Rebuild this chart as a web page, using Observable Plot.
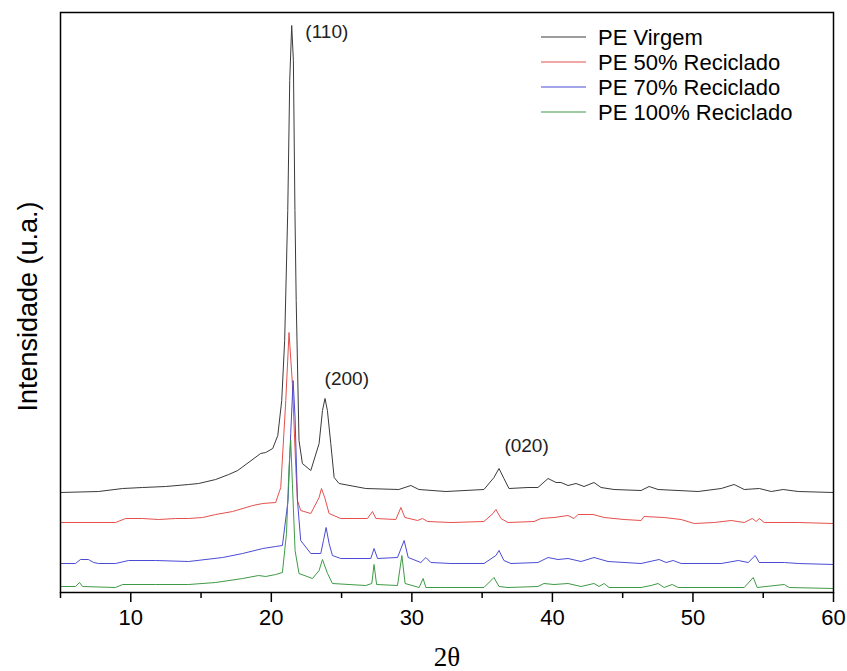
<!DOCTYPE html>
<html><head><meta charset="utf-8">
<script src="https://cdn.jsdelivr.net/npm/d3@7"></script>
<script src="https://cdn.jsdelivr.net/npm/@observablehq/plot@0.6"></script>
<style>body{margin:0;background:#fff} svg{display:block}</style>
</head><body><div id="chart"></div>
<script>
const seriesNames = ["PE Virgem", "PE 50% Reciclado", "PE 70% Reciclado", "PE 100% Reciclado"];
const seriesColors = ["#3a3a3a", "#e5504c", "#4b4bd6", "#3f9a45"];

const virgem2t = [5.00,7.71,9.42,10.84,12.48,14.12,14.83,16.04,16.97,17.61,19.24,19.60,20.10,20.46,20.74,20.95,21.17,21.31,21.45,21.57,21.68,21.77,21.97,22.21,22.81,23.40,23.64,23.82,23.99,24.23,24.47,24.82,26.72,29.07,29.93,30.50,32.42,35.13,35.84,36.20,36.55,36.91,38.26,38.97,39.69,40.26,40.61,41.11,41.68,42.25,42.96,43.46,44.39,46.31,46.88,47.52,50.37,52.01,52.93,53.65,54.72,55.57,56.42,57.49,59.99];
const virgemI = [100,101,104,105,106,108,109,113,118,122,139,140,144,157,192,252,382,512,567,532,382,292,152,129,122,149,182,194,182,149,115,109,104,103,107,103,101,103,115,124,114,104,105,105,114,110,110,107,109,106,110,105,103,102,106,103,101,104,108,103,104,101,103,101,100];

const r50_2t = [5.00,8.92,9.63,10.84,11.98,13.19,14.12,15.11,16.04,17.25,18.68,19.39,20.31,20.67,21.03,21.26,21.50,21.74,21.86,22.09,22.81,23.40,23.57,23.80,24.11,24.94,26.84,27.20,27.44,28.86,29.22,29.50,30.41,30.76,31.12,32.78,35.13,35.77,35.98,36.34,36.84,38.69,39.19,40.11,41.11,41.54,41.82,42.89,43.68,45.10,46.31,46.52,47.95,49.16,50.09,51.51,52.72,53.65,54.22,54.50,54.72,55.07,57.49,59.99];
const r50I = [70,70,74,74,73,74,74,75,78,81,87,89,90,105,192,260,209,125,92,82,79,95,104,95,79,74,74,81,74,73,85,75,72,74,71,70,71,79,83,74,70,71,74,75,77,74,78,78,75,73,72,76,75,73,69,70,72,70,74,71,74,70,70,69];

const r70_2t = [5.00,6.07,6.42,6.99,7.35,7.71,8.92,9.84,11.77,14.12,16.54,17.96,19.39,20.31,20.79,21.19,21.38,21.55,21.69,21.86,22.09,22.81,23.52,23.71,23.90,24.11,24.35,24.94,27.08,27.31,27.56,28.98,29.45,29.74,30.64,31.00,31.35,32.78,35.13,35.98,36.20,36.55,37.05,38.97,39.69,40.40,41.11,42.04,42.96,43.96,46.31,47.59,48.09,48.59,49.16,52.01,53.22,53.93,54.43,54.72,56.50,57.49,59.99];
const r70I = [29,29,33,33,30,29,29,32,32,31,35,39,44,46,47,92,159,212,175,92,52,39,39,52,65,49,37,34,34,44,34,35,52,35,30,35,30,29,29,37,42,32,29,30,35,33,34,31,35,31,29,33,30,32,29,29,32,30,37,30,30,29,28];

const r100_2t = [5.00,6.07,6.35,6.57,8.92,9.42,11.77,14.12,16.04,17.96,19.10,19.60,20.31,20.79,21.08,21.26,21.38,21.50,21.69,21.97,22.93,23.40,23.64,24.00,24.35,26.72,27.15,27.31,27.49,28.98,29.29,29.52,30.52,30.80,31.00,32.42,35.13,35.84,36.20,36.84,38.97,39.40,40.11,41.11,42.04,42.96,43.32,43.68,44.03,46.31,47.02,47.52,47.95,48.52,48.95,53.65,54.29,54.57,56.50,56.85,59.99];
const r100I = [6,6,10,6,5,8,8,8,10,14,17,16,18,20,59,125,152,109,42,19,14,22,33,19,9,7,9,28,8,7,37,9,5,14,5,5,5,15,6,5,6,9,8,9,6,9,6,9,5,5,7,9,5,8,5,5,15,5,8,5,4];

const majorTicks = [10, 20, 30, 40, 50, 60];
const minorTicks = [5, 15, 25, 35, 45, 55];
const peakLabels = ["(110)", "(200)", "(020)"];
const peak2t = [23.95, 25.37, 38.16];
const peakI = [561, 214, 147];

const seriesX = [virgem2t, r50_2t, r70_2t, r100_2t];
const seriesY = [virgemI, r50I, r70I, r100I];
const rows = [];
seriesNames.forEach((s, k) => seriesX[k].forEach((t, j) => rows.push({s, t, i: seriesY[k][j]})));
const peaks = peakLabels.map((label, j) => ({label, t: peak2t[j], i: peakI[j]}));

const chart = Plot.plot({
  width: 847, height: 671,
  marginTop: 12, marginBottom: 79, marginLeft: 60, marginRight: 14,
  x: {domain: [5, 60]},
  y: {domain: [0, 580], axis: null},
  color: {domain: seriesNames, range: seriesColors},
  style: {fontFamily: "'Liberation Sans', Arial, sans-serif", background: "#fff", color: "#000"},
  marks: [
    Plot.line(rows, {x: "t", y: "i", z: "s", stroke: "s", strokeWidth: 1}),
    Plot.text(peaks, {x: "t", y: "i", text: "label", fontSize: 19, fill: "#222"}),
    Plot.frame({stroke: "#000", strokeWidth: 1.5}),
    Plot.axisX(majorTicks, {tickSize: 10, tickPadding: 7, fontSize: 22, label: null, stroke: "#000", strokeWidth: 1.5}),
    Plot.axisX(minorTicks, {tickSize: 6, tickFormat: () => "", label: null, stroke: "#000", strokeWidth: 1.5}),
    Plot.text(["2θ"], {frameAnchor: "bottom", dy: 73, fontSize: 27, fontFamily: "'Liberation Serif', 'Times New Roman', serif", fill: "#000"}),
    Plot.text(["Intensidade (u.a.)"], {frameAnchor: "left", dx: -32, dy: 4, rotate: -90, textAnchor: "middle", fontSize: 27, fill: "#000"})
  ]
});

const svg = d3.select(chart);
const leg = svg.append("g").attr("font-family", "'Liberation Sans', Arial, sans-serif").attr("font-size", 22).attr("text-anchor", "start");
seriesNames.forEach((name, k) => {
  const yy = 37 + k * 25;
  leg.append("line").attr("x1", 541).attr("x2", 586).attr("y1", yy).attr("y2", yy)
    .attr("stroke", seriesColors[k]).attr("stroke-width", 1);
  leg.append("text").attr("x", 598).attr("y", yy).attr("dy", "0.35em").attr("fill", "#000").attr("text-anchor", "start").text(name);
});
document.getElementById("chart").append(chart);
</script>
</body></html>
